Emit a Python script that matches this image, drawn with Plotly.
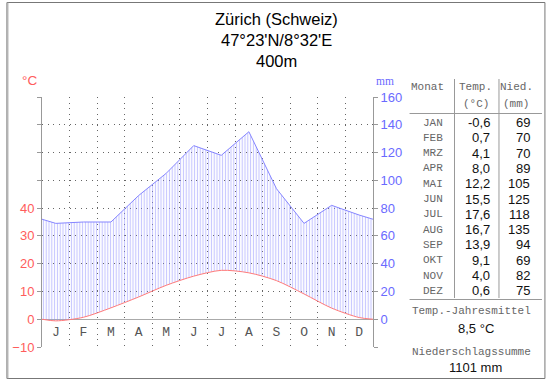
import plotly.graph_objects as go

# ---------------- data ----------------
months = ["J", "F", "M", "A", "M", "J", "J", "A", "S", "O", "N", "D"]
month_names = ["JAN", "FEB", "MRZ", "APR", "MAI", "JUN", "JUL", "AUG", "SEP", "OKT", "NOV", "DEZ"]
temperature = [-0.6, 0.7, 4.1, 8.0, 12.2, 15.5, 17.6, 16.7, 13.9, 9.1, 4.0, 0.6]
precipitation = [69, 70, 70, 89, 105, 125, 118, 135, 94, 69, 82, 75]
temp_ticks = [-10, 0, 10, 20, 30, 40, 50, 60, 70, 80]
temp_labels = ["−10", "0", "10", "20", "30", "40", "", "", "", ""]
precip_ticks = [-20, 0, 20, 40, 60, 80, 100, 120, 140, 160]
precip_labels = ["", "0", "20", "40", "60", "80", "100", "120", "140", "160"]
title_lines = ["Zürich (Schweiz)", "47°23'N/8°32'E", "400m"]
mean_label = "Temp.-Jahresmittel"
sum_label = "Niederschlagssumme"

# ---------------- geometry ----------------
W, H = 550, 382
L, R, T, B = 38, 177, 97, 35
pw, ph = W - L - R, H - T - B


def px(x):
    return (x - L) / pw


def py(y):
    return (H - B - y) / ph


MONO = "Liberation Mono, DejaVu Sans Mono, monospace"
SANS = "Liberation Sans, Arial, sans-serif"
RED = "#ff5c5c"
BLUE = "#6a6aff"
GREY = "#999999"

centers = [i + 0.5 for i in range(12)]
t_edge = (temperature[-1] + temperature[0]) / 2
p_edge = (precipitation[-1] + precipitation[0]) / 2
x_ext = [0] + centers + [12]
t_ext = [t_edge] + temperature + [t_edge]
p_ext = [p_edge] + precipitation + [p_edge]
p_scaled = [p / 2 for p in p_ext]  # 20 mm == 10 °C

fig = go.Figure()
fig.add_trace(go.Scatter(x=x_ext, y=t_ext, mode="lines", line=dict(color="#ff7a7a", width=1, shape="spline", smoothing=0.8),
                         hoverinfo="skip", showlegend=False))
fig.add_trace(go.Scatter(x=x_ext, y=p_scaled, mode="lines", line=dict(color="#8585ff", width=1),
                         fill="tonexty", fillcolor="rgba(0,0,0,0)",
                         fillpattern=dict(shape="|", fgcolor="#8c8cff", bgcolor="rgba(0,0,0,0)", size=2.8, solidity=0.38),
                         hoverinfo="skip", showlegend=False))
# invisible trace to activate the right axis
fig.add_trace(go.Scatter(x=x_ext, y=p_ext, yaxis="y2", mode="lines", line=dict(color="rgba(0,0,0,0)", width=0),
                         hoverinfo="skip", showlegend=False))
# month letters
fig.add_trace(go.Scatter(x=centers, y=[-5] * 12, mode="text", text=months,
                         textfont=dict(family=MONO, size=13, color="#555555"),
                         hoverinfo="skip", showlegend=False))

dots = "1px,4.5px"
fig.update_layout(
    width=W, height=H, margin=dict(l=L, r=R, t=T, b=B, pad=0),
    paper_bgcolor="white", plot_bgcolor="white",
    xaxis=dict(range=[0, 12], tickvals=list(range(1, 12)), showticklabels=False, ticks="",
               showgrid=True, gridcolor="#666666", griddash=dots, gridwidth=1,
               zeroline=False, showline=False, fixedrange=True),
    yaxis=dict(range=[-10, 80], tickvals=temp_ticks, ticktext=temp_labels,
               showgrid=True, gridcolor="#666666", griddash=dots, gridwidth=1,
               zeroline=True, zerolinecolor="#aaaaaa", zerolinewidth=1,
               showline=True, linecolor=GREY, linewidth=1, ticks="outside", ticklen=4, tickcolor=GREY,
               tickfont=dict(family=SANS, size=13, color=RED), fixedrange=True),
    yaxis2=dict(range=[-20, 160], overlaying="y", side="right", tickvals=precip_ticks, ticktext=precip_labels,
                showgrid=False, zeroline=False, showline=True, linecolor=GREY, linewidth=1,
                ticks="outside", ticklen=4, tickcolor=GREY,
                tickfont=dict(family=SANS, size=13, color=BLUE), fixedrange=True),
)

ann = []


def text(x, y, s, font, color, size, anchor="center"):
    ann.append(dict(x=px(x), y=py(y), xref="paper", yref="paper", text=s, showarrow=False,
                    xanchor=anchor, yanchor="middle", font=dict(family=font, size=size, color=color)))


# title
for i, line in enumerate(title_lines):
    text(275, 19 + 21 * i, line, SANS, "#000000", 16.5)
# axis units
text(25, 80.5, "°C", SANS, RED, 13.5)
text(385.5, 81.5, "mm", "Liberation Serif, serif", BLUE, 11.5)

# table
MS = 11
MC = "#666666"
text(447, 87, "Monat", MONO, MC, MS, "right")
text(477, 87, "Temp.", MONO, MC, MS)
text(477, 103.5, "(°C)", MONO, MC, MS)
text(518, 87, "Nied.", MONO, MC, MS)
text(518, 103.5, "(mm)", MONO, MC, MS)
for i in range(12):
    yy = 122.5 + 15.3 * i
    text(446, yy, month_names[i], MONO, MC, MS, "right")
    text(493, yy, f"{temperature[i]:.1f}".replace(".", ","), SANS, "#111111", 13, "right")
    text(534, yy, str(precipitation[i]), SANS, "#111111", 13, "right")

annual_mean = sum(temperature) / len(temperature)
annual_sum = sum(precipitation)
text(473, 311, mean_label, MONO, MC, MS)
text(477, 328, f"{annual_mean:.1f}".replace(".", ",") + " °C", SANS, "#111111", 13)
text(473, 352, sum_label, MONO, MC, MS)
text(477, 367, f"{annual_sum} mm", SANS, "#111111", 13)
fig.update_layout(annotations=ann)

shapes = []


def line(x0, y0, x1, y1, color=GREY, width=1):
    shapes.append(dict(type="line", xref="paper", yref="paper", x0=px(x0), y0=py(y0), x1=px(x1), y1=py(y1),
                       line=dict(color=color, width=width)))


line(410, 113.5, 544, 113.5)
line(410, 299.5, 544, 299.5)
line(455.5, 79, 455.5, 298)
line(500.5, 79, 500.5, 298)
# frame
shapes.append(dict(type="rect", xref="paper", yref="paper", x0=px(2.5), y0=py(378.5), x1=px(547), y1=py(2.5),
                   line=dict(color="#777777", width=1)))
line(3.5, 2.5, 3.5, 378.5, color="#aaaaaa")
fig.update_layout(shapes=shapes)

fig.write_html("out.html", config={"displayModeBar": False},
               post_script="document.body.style.margin='0';document.body.style.padding='0';")
